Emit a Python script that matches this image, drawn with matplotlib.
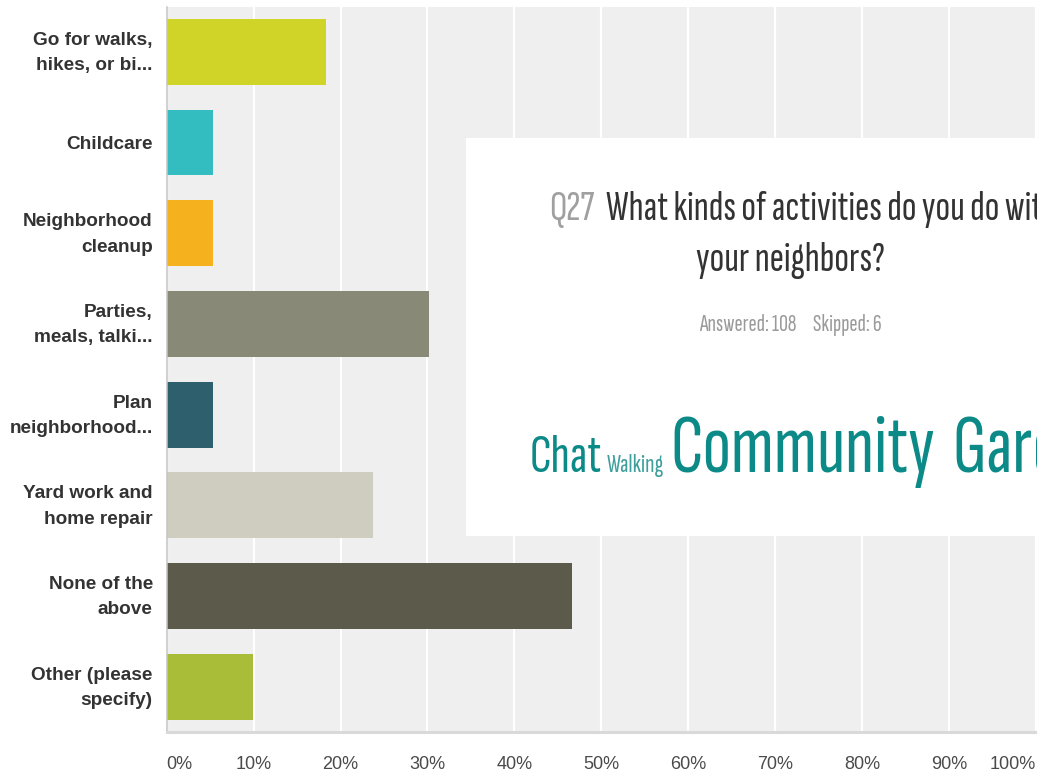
import matplotlib
matplotlib.use("Agg")
import matplotlib.pyplot as plt
from matplotlib.transforms import ScaledTranslation

# ---------------- data ----------------
categories = [
    "Go for walks,\nhikes, or bi...",
    "Childcare",
    "Neighborhood\ncleanup",
    "Parties,\nmeals, talki...",
    "Plan\nneighborhood...",
    "Yard work and\nhome repair",
    "None of the\nabove",
    "Other (please\nspecify)",
]
values = [18.3, 5.3, 5.3, 30.2, 5.3, 23.7, 46.6, 9.9]
bar_colors = ["#d0d428", "#33bdc0", "#f6b11f", "#898978",
              "#2e5f6c", "#cfcdbf", "#5c5a4b", "#a9bd38"]
xticks = [0, 10, 20, 30, 40, 50, 60, 70, 80, 90, 100]
xtick_labels = ["0%", "10%", "20%", "30%", "40%", "50%",
                "60%", "70%", "80%", "90%", "100%"]

title_q = "Q27"
title_line1 = "What kinds of activities do you do with"
title_line2 = "your neighbors?"
answered_text = "Answered: 108"
skipped_text = "Skipped: 6"
cloud_words = ["Chat", "Walking", "Community", "Garden"]

# ---------------- figure ----------------
W, H = 1037, 777
fig = plt.figure(figsize=(W / 100, H / 100), dpi=100)
fig.patch.set_facecolor("white")

LABEL_FONT = ["Liberation Sans", "DejaVu Sans"]

ax_l, ax_r, ax_t, ax_b = 166.7, 1036.0, 6.5, 732.0
ax = fig.add_axes([ax_l / W, 1 - ax_b / H, (ax_r - ax_l) / W, (ax_b - ax_t) / H])
ax.set_facecolor("#efefef")

ypos = list(range(len(categories)))
ax.barh(ypos, values, height=0.727, color=bar_colors, zorder=2)
ax.set_xlim(0, 100)
ax.set_ylim(len(categories) - 0.5, -0.5)

ax.set_yticks(ypos)
ax.set_yticklabels(categories, fontsize=13.7, fontweight="bold", color="#333333",
                   family=LABEL_FONT, linespacing=1.65)
ax.set_xticks(xticks)
ax.set_xticklabels(xtick_labels, fontsize=13, color="#4a4a4a", family=LABEL_FONT)
ax.tick_params(axis="y", length=0, pad=10)
ax.tick_params(axis="x", length=0, pad=17.5)
xl = ax.get_xticklabels()
xl[0].set_ha("left")
xl[-1].set_ha("right")
# nudge two-line category labels so their visual centre sits on the bar centre
for lab in ax.get_yticklabels():
    if "\n" in lab.get_text():
        lab.set_transform(lab.get_transform() +
                          ScaledTranslation(0, 5 / 100, fig.dpi_scale_trans))

ax.set_axisbelow(True)
ax.xaxis.grid(True, color="white", linewidth=1.6)
ax.yaxis.grid(False)
for s in ["top", "right"]:
    ax.spines[s].set_visible(False)
ax.spines["left"].set_color("#c4c4c4")
ax.spines["left"].set_linewidth(1.1)
ax.spines["bottom"].set_color("#d9d9d9")
ax.spines["bottom"].set_linewidth(2.2)
for s in ["left", "bottom"]:
    ax.spines[s].set_zorder(3)

# ---------------- overlay box (pixel coordinates, y down) ----------------
bx0, bx1, by0, by1 = 465.5, 1037, 138, 536
ov = fig.add_axes([bx0 / W, 1 - by1 / H, (bx1 - bx0) / W, (by1 - by0) / H], zorder=5)
ov.set_facecolor("white")
ov.set_xlim(bx0, bx1)
ov.set_ylim(by1, by0)
ov.set_xticks([])
ov.set_yticks([])
for s in ov.spines.values():
    s.set_visible(False)

renderer = fig.canvas.get_renderer()


def width(t):
    return t.get_window_extent(renderer).width


def fit(t, target, scale=1.0):
    for _ in range(3):
        t.set_fontsize(t.get_fontsize() * target / width(t))
    t.set_fontsize(t.get_fontsize() * scale)
    return t.get_fontsize()


OV_FONT = ["Sofia Sans Extra Condensed", "Pathway Gothic One", "DejaVu Sans"]
S_TITLE = 1.2
S_CLOUD = 1.15

# title, line 2 (centred)
t2 = ov.text(790, 271, title_line2, family=OV_FONT, fontsize=28, color="#333333",
             fontweight="bold", ha="center", va="baseline", clip_on=True)
tsize = fit(t2, 157, S_TITLE)
# title, line 1: grey question number + dark question text, centred as one line
tq = ov.text(0, 220, title_q, family=OV_FONT, fontsize=tsize, color="#a0a0a0",
             fontweight="bold", ha="left", va="baseline", clip_on=True)
t1 = ov.text(0, 220, title_line1, family=OV_FONT, fontsize=tsize, color="#333333",
             fontweight="bold", ha="left", va="baseline", clip_on=True)
gap = 0.28 * tsize * 100 / 72
total = width(tq) + gap + width(t1)
x0 = 803 - total / 2
tq.set_x(x0)
t1.set_x(x0 + width(tq) + gap)

# answered / skipped line
ta = ov.text(0, 331, answered_text, family=OV_FONT, fontsize=14, color="#9a9a9a",
             fontweight="bold", ha="left", va="baseline", clip_on=True)
asize = fit(ta, 81, 1.2)
tsk = ov.text(0, 331, skipped_text, family=OV_FONT, fontsize=asize, color="#9a9a9a",
              fontweight="bold", ha="left", va="baseline", clip_on=True)
agap = 14 * 1.2
atotal = width(ta) + agap + width(tsk)
ax0 = 790 - atotal / 2
ta.set_x(ax0)
tsk.set_x(ax0 + width(ta) + agap)

# word cloud, laid out left to right
cloud_color = "#0b8a87"
cloud_targets = [63, 50, 230]          # reference widths of the first three words
cloud_colors = [cloud_color, "#3e9f9c", cloud_color, cloud_color]
cloud_gaps = [3.5, 6, 15]
x = 530
texts = []
for i, word in enumerate(cloud_words):
    t = ov.text(x, 472, word, family=OV_FONT, fontsize=40, color=cloud_colors[i],
                ha="left", va="baseline", clip_on=True)
    if i < 3:
        fit(t, cloud_targets[i], S_CLOUD)
    else:
        t.set_fontsize(texts[2].get_fontsize())
    texts.append(t)
    if i < 3:
        x += width(t) + cloud_gaps[i] * S_CLOUD

fig.savefig("out.png", dpi=100, facecolor="white")
